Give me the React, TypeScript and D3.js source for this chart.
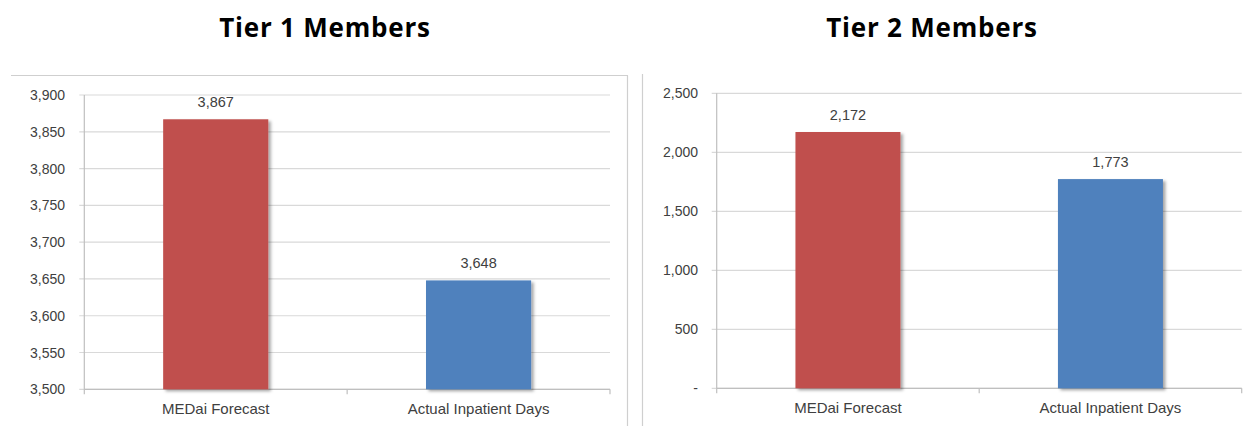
import React from "react";
import * as d3 from "d3";

const categories = ["MEDai Forecast", "Actual Inpatient Days"];
const tier1Values = [3867, 3648];
const tier2Values = [2172, 1773];
const tier1Ticks = [3500, 3550, 3600, 3650, 3700, 3750, 3800, 3850, 3900];
const tier2Ticks = [0, 500, 1000, 1500, 2000, 2500];
const barColors = ["#C0504D", "#4F81BD"];

const W = 1254;
const H = 426;
const FONT = "'Liberation Sans', Arial, sans-serif";
const TITLE_FONT = "'Open Sans', 'Liberation Sans', sans-serif";
const fmt = d3.format(",");

type PanelProps = {
  title: string;
  titleX: number;
  values: number[];
  ticks: number[];
  domain: [number, number];
  x0: number;
  x1: number;
  yTop: number;
  yBottom: number;
  labelRight: number;
  zeroDash?: boolean;
};

function Panel(p: PanelProps) {
  const y = d3.scaleLinear().domain(p.domain).range([p.yBottom, p.yTop]);
  const x = d3
    .scaleBand<string>()
    .domain(categories)
    .range([p.x0, p.x1])
    .paddingInner(0.6)
    .paddingOuter(0.3);
  const bounds = [p.x0, (p.x0 + p.x1) / 2, p.x1];
  const text = "#404040";
  return (
    <g>
      <text
        x={p.titleX}
        y={37}
        textAnchor="middle"
        fontFamily={TITLE_FONT}
        fontWeight={700}
        fontSize={26}
        letterSpacing={0.8}
        fill="#000"
      >
        {p.title}
      </text>
      {p.ticks.map((t) => (
        <g key={t}>
          <line x1={p.x0 - 5} x2={p.x1} y1={y(t)} y2={y(t)} stroke="#d9d9d9" strokeWidth={1.2} />
          <text
            x={p.labelRight}
            y={y(t) + 5}
            textAnchor="end"
            fontFamily={FONT}
            fontSize={14}
            fill={text}
          >
            {p.zeroDash && t === 0 ? "-" : fmt(t)}
          </text>
        </g>
      ))}
      <line x1={p.x0} x2={p.x0} y1={p.yTop} y2={p.yBottom} stroke="#bfbfbf" strokeWidth={1.2} />
      <line x1={p.x0} x2={p.x1} y1={p.yBottom} y2={p.yBottom} stroke="#bfbfbf" strokeWidth={1.2} />
      {bounds.map((b, i) => (
        <line key={i} x1={b} x2={b} y1={p.yBottom} y2={p.yBottom + 5} stroke="#bfbfbf" strokeWidth={1.2} />
      ))}
      {categories.map((c, i) => {
        const bx = x(c)!;
        const bw = x.bandwidth();
        const v = p.values[i];
        return (
          <g key={c}>
            <rect
              x={bx}
              y={y(v)}
              width={bw}
              height={p.yBottom - y(v)}
              fill={barColors[i]}
              filter="url(#shadow)"
            />
            <text
              x={bx + bw / 2}
              y={y(v) - 12}
              textAnchor="middle"
              fontFamily={FONT}
              fontSize={14.5}
              fill={text}
            >
              {fmt(v)}
            </text>
            <text
              x={bx + bw / 2}
              y={p.yBottom + 25}
              textAnchor="middle"
              fontFamily={FONT}
              fontSize={15}
              fill={text}
            >
              {c}
            </text>
          </g>
        );
      })}
    </g>
  );
}

export default function App() {
  return (
    <svg
      width={W}
      height={H}
      style={{ position: "absolute", left: 0, top: 0, background: "#fff" }}
    >
      <defs>
        <filter id="shadow" x="-10%" y="-10%" width="130%" height="130%">
          <feDropShadow dx={2.5} dy={2} stdDeviation={1.5} floodColor="#000" floodOpacity={0.35} />
        </filter>
      </defs>
      <rect x={0} y={0} width={W} height={H} fill="#fff" />
      <line x1={11} x2={628} y1={75.5} y2={75.5} stroke="#cfcfcf" strokeWidth={1.2} />
      <line x1={627.5} x2={627.5} y1={75.5} y2={H} stroke="#cfcfcf" strokeWidth={1.2} />
      <line x1={642.5} x2={642.5} y1={74} y2={H} stroke="#cfcfcf" strokeWidth={1.2} />
      <Panel
        title="Tier 1 Members"
        titleX={325}
        values={tier1Values}
        ticks={tier1Ticks}
        domain={[3500, 3900]}
        x0={84.3}
        x1={610}
        yTop={95}
        yBottom={389.3}
        labelRight={65}
      />
      <Panel
        title="Tier 2 Members"
        titleX={932}
        values={tier2Values}
        ticks={tier2Ticks}
        domain={[0, 2500]}
        x0={716.7}
        x1={1241.7}
        yTop={93.3}
        yBottom={388.3}
        labelRight={698}
        zeroDash
      />
    </svg>
  );
}
